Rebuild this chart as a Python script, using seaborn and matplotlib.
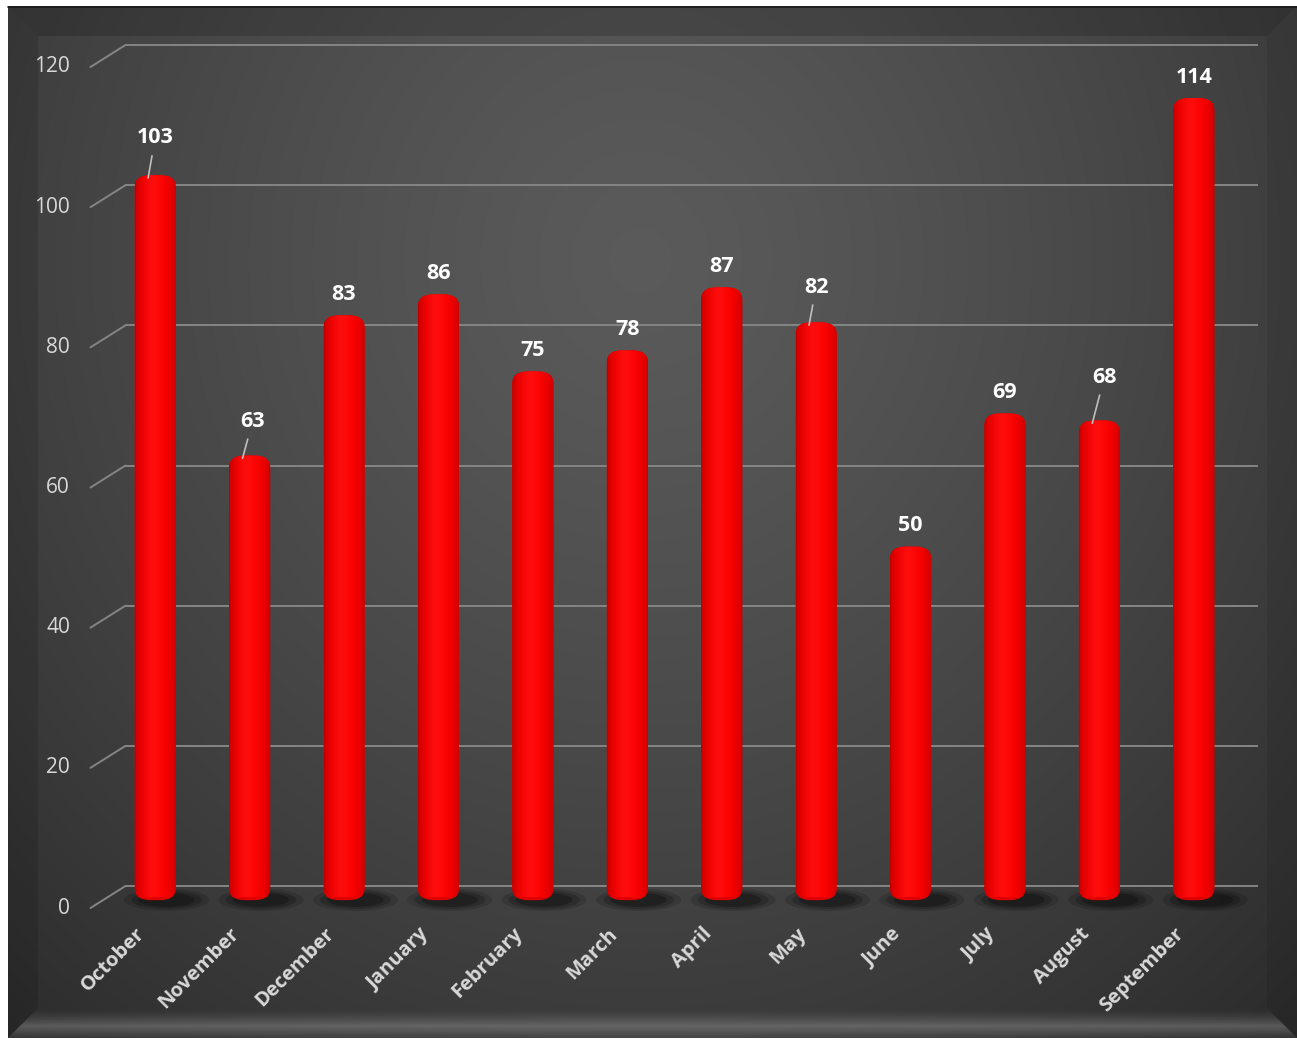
import numpy as np
import matplotlib
matplotlib.use("Agg")
import matplotlib.pyplot as plt
import seaborn as sns
from matplotlib.patches import FancyBboxPatch, Polygon, Ellipse
from matplotlib.transforms import ScaledTranslation

# ---------------- data ----------------
months = ["October", "November", "December", "January", "February", "March",
          "April", "May", "June", "July", "August", "September"]
values = [103, 63, 83, 86, 75, 78, 87, 82, 50, 69, 68, 114]
y_ticks = [0, 20, 40, 60, 80, 100, 120]

# ---------------- style ----------------
sns.set_theme(style="white")
plt.rcParams["font.family"] = ["Open Sans", "DejaVu Sans"]

W, H = 1297, 1040
fig = plt.figure(figsize=(W / 100, H / 100), dpi=100)
fig.patch.set_facecolor("white")

# ---------------- background frame ----------------
bg = fig.add_axes([0, 0, 1, 1])
bg.set_xlim(0, W)
bg.set_ylim(H, 0)
bg.axis("off")

fx0, fy0, fx1, fy1 = 8, 6, W, 1038
yy, xx = np.mgrid[fy0:fy1, fx0:fx1]
d = np.sqrt(((xx - 640) / 760.0) ** 2 + ((yy - 260) / 820.0) ** 2)
lum = 0.355 - 0.19 * np.clip(d / 1.3, 0, 1.1) ** 1.3
img = np.dstack([lum, lum, lum])
bg.imshow(img, extent=(fx0, fx1, fy1, fy0), origin="upper", aspect="auto", zorder=0)

bv = 30
bg.add_patch(Polygon([(fx0, fy0), (fx1, fy0), (fx1 - bv, fy0 + bv), (fx0 + bv, fy0 + bv)],
                     closed=True, fc="black", alpha=0.16, ec="none", zorder=1))
bg.add_patch(Polygon([(fx0, fy0), (fx0 + bv, fy0 + bv), (fx0 + bv, fy1 - bv), (fx0, fy1)],
                     closed=True, fc="black", alpha=0.12, ec="none", zorder=1))
bg.add_patch(Polygon([(fx1, fy0), (fx1, fy1), (fx1 - bv, fy1 - bv), (fx1 - bv, fy0 + bv)],
                     closed=True, fc="black", alpha=0.08, ec="none", zorder=1))
bot = Polygon([(fx0, fy1), (fx0 + bv, fy1 - bv), (fx1 - bv, fy1 - bv), (fx1, fy1)],
              closed=True, fc="none", ec="none", zorder=1)
bg.add_patch(bot)
tprof = np.linspace(0, 1, 60)
alpha = np.where(tprof < 0.6, (tprof / 0.6) ** 1.5 * 0.22, 0.22 - (tprof - 0.6) / 0.4 * 0.17)
bimg = np.ones((60, 1, 4))
bimg[:, 0, 3] = alpha
bim = bg.imshow(bimg, extent=(fx0, fx1, fy1, fy1 - bv), origin="upper", aspect="auto", zorder=2)
bim.set_clip_path(bot)
bg.plot([fx0, fx1], [fy0 + 0.5, fy0 + 0.5], color="#1a1a1a", lw=1.2, zorder=3)
bg.set_xlim(0, W)
bg.set_ylim(H, 0)

# ---------------- main axes ----------------
left_px, right_px, base_px, top_px = 108, 1241, 897, 56
ax = fig.add_axes([left_px / W, (H - base_px) / H, (right_px - left_px) / W, (base_px - top_px) / H])
ax.patch.set_alpha(0)

sns.barplot(x=months, y=values, color="red", width=0.435, saturation=1, ax=ax)

ax.set_xlim(-0.5, len(months) - 0.5)
ax.set_ylim(0, 120)
for s in ax.spines.values():
    s.set_visible(False)
ax.set_xticks([])
ax.set_yticks([])
ax.set_xlabel("")
ax.set_ylabel("")

px_x = (right_px - left_px) / len(months)   # pixels per x unit
px_y = (base_px - top_px) / 120.0            # pixels per y unit
dxb, dyb = 17.5 / px_x, 11 / px_y            # depth offset (back wall)


def off(dx, dy):
    return ax.transData + ScaledTranslation(dx / 100.0, dy / 100.0, fig.dpi_scale_trans)


grid_c = "#858585"
for v in y_ticks:
    ax.plot([-0.5 + dxb, len(months) - 0.5 + dxb], [v + dyb, v + dyb],
            color=grid_c, lw=1.4, clip_on=False, zorder=1, solid_capstyle="butt")
    ax.plot([-0.5 - dxb, -0.5 + dxb], [v - dyb, v + dyb],
            color=grid_c, lw=1.4, clip_on=False, zorder=1)
    ax.text(-0.5, v, str(v), transform=off(-38, -11), ha="right", va="center",
            fontsize=15, color="#d9d9d9")

# shadows on floor
for i in range(len(months)):
    for wd, ht, a in [(0.9, 3.2, 0.14), (0.75, 2.6, 0.2), (0.6, 2.0, 0.25)]:
        ax.add_patch(Ellipse((i + 0.12, -0.4), wd, ht, fc="black", alpha=a, ec="none",
                             zorder=2, clip_on=False))

# cylinder-like bars
prof = np.linspace(0, 1, 200)
shade = np.sin(np.pi * prof) ** 0.5
peak = np.exp(-((prof - 0.42) / 0.2) ** 2)
r = 0.72 + 0.28 * shade
g = 0.05 * peak
b = 0.05 * peak
grad = np.dstack([r, g, b])
bars = [p for p in ax.patches if not isinstance(p, Ellipse)]
for p in bars:
    x0, w, h = p.get_x(), p.get_width(), p.get_height()
    p.set_visible(False)
    cyl = FancyBboxPatch((x0, -0.45), w, h + 0.45,
                         boxstyle="round,pad=0,rounding_size=0.17",
                         mutation_aspect=10.0, fc="#e00000", ec="none",
                         zorder=3, clip_on=False)
    ax.add_patch(cyl)
    im = ax.imshow(grad, extent=(x0, x0 + w, -0.45, h), aspect="auto", zorder=4,
                   origin="lower")
    im.set_clip_on(True)
    im.set_clip_path(cyl)
    im.set_clip_box(None)

# value labels
raised = {0: (7, 40), 1: (10, 37), 7: (7, 38), 10: (12, 46)}
for i, v in enumerate(values):
    if i in raised:
        dx, dy = raised[i]
        ax.annotate(str(v), xy=(i - 0.075, v - 0.4), xytext=(dx, dy),
                    textcoords="offset pixels", ha="center", va="center",
                    fontsize=15.5, fontweight="bold", color="white",
                    arrowprops=dict(arrowstyle="-", color="#bfbfbf", lw=1.2,
                                    shrinkA=3, shrinkB=0),
                    annotation_clip=False, zorder=6)
    else:
        ax.annotate(str(v), xy=(i, v), xytext=(0, 21), textcoords="offset pixels",
                    ha="center", va="center", fontsize=15.5, fontweight="bold",
                    color="white", annotation_clip=False, zorder=6)

# category labels
for i, m in enumerate(months):
    ax.text(i, 0, m, transform=off(-20, -27), rotation=45, rotation_mode="anchor",
            ha="right", va="top", fontsize=14.5, fontweight="bold", color="#d9d9d9")

fig.savefig("out.png", dpi=100)
